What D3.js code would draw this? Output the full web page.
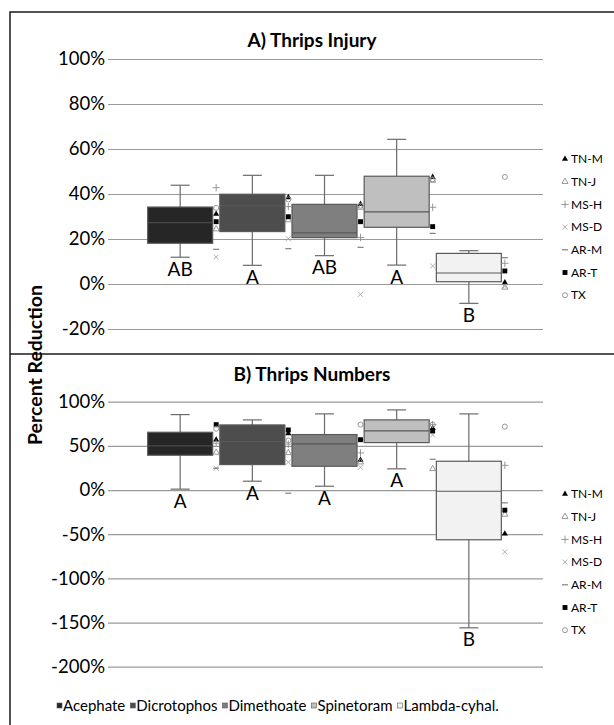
<!DOCTYPE html>
<html>
<head>
<meta charset="utf-8">
<script src="https://cdn.jsdelivr.net/npm/d3@7"></script>
<style>
  body { margin: 0; background: #fff; }
  svg { display: block; font-family: Lato, "Open Sans", sans-serif; }
</style>
</head>
<body>
<div id="chart"></div>
<script>
// Treatments (x categories) and their box fills
const treatments = ['Acephate', 'Dicrotophos', 'Dimethoate', 'Spinetoram', 'Lambda-cyhal.'];
const boxFills = ['#262626', '#4d4d4d', '#7f7f7f', '#bfbfbf', '#f2f2f2'];

// Locations (point series)
const locations = ['TN-M', 'TN-J', 'MS-H', 'MS-D', 'AR-M', 'AR-T', 'TX'];

// A) Thrips Injury - box statistics (%)
const injuryMin    = [11.9,  8.3, 12.6,  8.4, -8.6];
const injuryQ1     = [18.1, 23.3, 20.6, 25.2,  1.0];
const injuryMedian = [27.3, 34.7, 22.7, 32.1,  4.9];
const injuryQ3     = [34.2, 39.9, 35.4, 47.9, 13.6];
const injuryMax    = [43.9, 48.3, 48.3, 64.3, 14.8];
const injuryLetters = ['AB', 'A', 'AB', 'A', 'B'];
// per location, one value per treatment
const injuryPoints = [
    [31.1, 38.5, 35.5, 47.5,  0.7],  // TN-M
    [24.4, 28.4, 34.0, 46.0, -1.5],  // TN-J
    [42.8, 34.4, 20.7, 34.1,  9.2],  // MS-H
    [12.0, 20.1, -4.6,  8.0, -1.0],  // MS-D
    [15.4, 15.7, 16.3, 22.5, 11.7],  // AR-M
    [27.7, 29.9, 27.7, 25.5,  5.8],  // AR-T
    [33.8, 37.6, 34.8, 46.5, 47.6]   // TX
];
const injuryTicks = [-20, 0, 20, 40, 60, 80, 100];

// B) Thrips Numbers - box statistics (%)
const numbersMin    = [ 1.0, 10.0,  4.3, 24.0, -156.0];
const numbersQ1     = [39.4, 28.8, 26.9, 53.7,  -56.3];
const numbersMedian = [50.0, 54.9, 52.3, 67.0,   -1.4];
const numbersQ3     = [65.4, 73.7, 62.8, 79.4,   32.6];
const numbersMax    = [85.4, 79.4, 86.2, 90.7,   86.2];
const numbersLetters = ['A', 'A', 'A', 'A', 'B'];
const numbersPoints = [
    [56.8, 64.0, 34.0, 70.0, -49.5],  // TN-M
    [42.6, 42.0, 31.5, 24.0, -27.7],  // TN-J
    [53.0, 52.0, 42.0, 74.0,  28.0],  // MS-H
    [24.7, 31.4, 25.8, 62.4, -70.0],  // MS-D
    [24.7, -3.6, 57.0, 34.8, -14.5],  // AR-M
    [74.0, 68.0, 57.0, 66.9, -22.8],  // AR-T
    [69.4, 56.0, 74.0, 74.0,  71.8]   // TX
];
const numbersTicks = [-200, -150, -100, -50, 0, 50, 100];

// Marker styles per location
const markerShapes = {
    'TN-M': { type: d3.symbolTriangle, fill: '#000', stroke: 'none', size: 16 },
    'TN-J': { type: d3.symbolTriangle, fill: 'none', stroke: '#8c8c8c', size: 16 },
    'MS-H': { type: d3.symbolCross2 || d3.symbolPlus, fill: 'none', stroke: '#8c8c8c', size: 20 },
    'MS-D': { type: d3.symbolX || d3.symbolTimes, fill: 'none', stroke: '#a6a6a6', size: 18 },
    'AR-M': { type: 'dash', fill: 'none', stroke: '#7f7f7f', size: 0 },
    'AR-T': { type: d3.symbolSquare, fill: '#000', stroke: 'none', size: 24 },
    'TX':   { type: d3.symbolCircle, fill: 'none', stroke: '#8c8c8c', size: 20 }
};

const W = 614, H = 725;
const plotLeft = 108, plotRight = 543, pointRangeRight = 541;
const boxWidth = 65, capWidth = 19;

const svg = d3.select('#chart').append('svg')
    .attr('width', W)
    .attr('height', H);

// Outer frame and panel divider
svg.append('rect')
    .attr('x', 10).attr('y', 12)
    .attr('width', 640).attr('height', 760)
    .attr('fill', 'none')
    .attr('stroke', '#1a1a1a')
    .attr('stroke-width', 1.5);

svg.append('line')
    .attr('x1', 10).attr('x2', W)
    .attr('y1', 354).attr('y2', 354)
    .attr('stroke', '#1a1a1a')
    .attr('stroke-width', 1.5);

const x = d3.scalePoint()
    .domain(treatments)
    .range([plotLeft, pointRangeRight])
    .padding(1);

function drawMarker(g, loc, cx, cy) {
    const m = markerShapes[loc];
    if (m.type === 'dash') {
        g.append('line')
            .attr('x1', cx - 3).attr('x2', cx + 3)
            .attr('y1', cy).attr('y2', cy)
            .attr('stroke', m.stroke)
            .attr('stroke-width', 1.2);
        return;
    }
    g.append('path')
        .attr('d', d3.symbol().type(m.type).size(m.size)())
        .attr('transform', `translate(${cx},${cy})`)
        .attr('fill', m.fill)
        .attr('stroke', m.stroke)
        .attr('stroke-width', 0.9);
}

function drawPanel(opts) {
    const g = svg.append('g');
    const y = d3.scaleLinear().domain(opts.domain).range(opts.range);

    // Title
    g.append('text')
        .attr('x', 312).attr('y', opts.titleY)
        .attr('text-anchor', 'middle')
        .attr('font-weight', 'bold')
        .attr('font-size', 19)
        .text(opts.title);

    // Y axis with gridlines
    const axis = g.append('g')
        .attr('transform', `translate(${plotLeft},0)`)
        .call(d3.axisLeft(y)
            .tickValues(opts.ticks)
            .tickSize(-(plotRight - plotLeft))
            .tickPadding(3)
            .tickFormat(d => d + '%'));
    axis.select('.domain').remove();
    axis.selectAll('line').attr('stroke', '#9a9a9a').attr('stroke-width', 1.2);
    axis.selectAll('text')
        .attr('font-size', 18.5)
        .attr('font-family', 'Lato, sans-serif')
        .attr('fill', '#000');

    // Boxes
    treatments.forEach((t, i) => {
        const cx = x(t);
        const bg = g.append('g');
        // whisker
        bg.append('line')
            .attr('x1', cx).attr('x2', cx)
            .attr('y1', y(opts.max[i])).attr('y2', y(opts.min[i]))
            .attr('stroke', '#6b6b6b').attr('stroke-width', 1.2);
        [opts.max[i], opts.min[i]].forEach(v => {
            bg.append('line')
                .attr('x1', cx - capWidth / 2).attr('x2', cx + capWidth / 2)
                .attr('y1', y(v)).attr('y2', y(v))
                .attr('stroke', '#6b6b6b').attr('stroke-width', 1.2);
        });
        bg.append('rect')
            .attr('x', cx - boxWidth / 2)
            .attr('y', y(opts.q3[i]))
            .attr('width', boxWidth)
            .attr('height', y(opts.q1[i]) - y(opts.q3[i]))
            .attr('fill', boxFills[i])
            .attr('stroke', '#595959')
            .attr('stroke-width', 1.2);
        bg.append('line')
            .attr('x1', cx - boxWidth / 2).attr('x2', cx + boxWidth / 2)
            .attr('y1', y(opts.median[i])).attr('y2', y(opts.median[i]))
            .attr('stroke', i === 0 ? '#4a4a4a' : '#595959')
            .attr('stroke-width', 1.2);

        // significance letter
        g.append('text')
            .attr('x', cx)
            .attr('y', y(opts.min[i]) + 12)
            .attr('dy', '0.35em')
            .attr('text-anchor', 'middle')
            .attr('font-size', 19)
            .text(opts.letters[i]);
    });

    // Location points beside each box
    locations.forEach((loc, li) => {
        treatments.forEach((t, i) => {
            drawMarker(g, loc, x(t) + boxWidth / 2 + 3.5, y(opts.points[li][i]));
        });
    });

    // Location legend
    const lg = g.append('g');
    locations.forEach((loc, li) => {
        const ly = opts.legendY + li * 22.7;
        drawMarker(lg, loc, 565, ly);
        lg.append('text')
            .attr('x', 571).attr('y', ly)
            .attr('dy', '0.35em')
            .attr('font-size', 12)
            .text(loc);
    });
}

drawPanel({
    title: 'A) Thrips Injury', titleY: 47,
    domain: [-20, 100], range: [329, 59],
    ticks: injuryTicks,
    min: injuryMin, q1: injuryQ1, median: injuryMedian, q3: injuryQ3, max: injuryMax,
    letters: injuryLetters, points: injuryPoints,
    legendY: 159
});

drawPanel({
    title: 'B) Thrips Numbers', titleY: 381,
    domain: [-200, 100], range: [666.7, 401.7],
    ticks: numbersTicks,
    min: numbersMin, q1: numbersQ1, median: numbersMedian, q3: numbersQ3, max: numbersMax,
    letters: numbersLetters, points: numbersPoints,
    legendY: 494
});

// Y axis title
svg.append('text')
    .attr('transform', 'translate(35,365) rotate(-90)')
    .attr('text-anchor', 'middle')
    .attr('dy', '0.35em')
    .attr('font-weight', 'bold')
    .attr('font-size', 19.5)
    .text('Percent Reduction');

// Treatment legend along the bottom
const bottom = svg.append('g').attr('transform', 'translate(57,706)');
let cursor = 0;
treatments.forEach((t, i) => {
    bottom.append('rect')
        .attr('x', cursor).attr('y', -3)
        .attr('width', 5).attr('height', 5)
        .attr('fill', boxFills[i])
        .attr('stroke', '#595959')
        .attr('stroke-width', 0.6);
    const txt = bottom.append('text')
        .attr('x', cursor + 6)
        .attr('dy', '0.35em')
        .attr('font-size', 15)
        .text(t);
    cursor += 6 + txt.node().getComputedTextLength() + 5;
});
</script>
</body>
</html>
